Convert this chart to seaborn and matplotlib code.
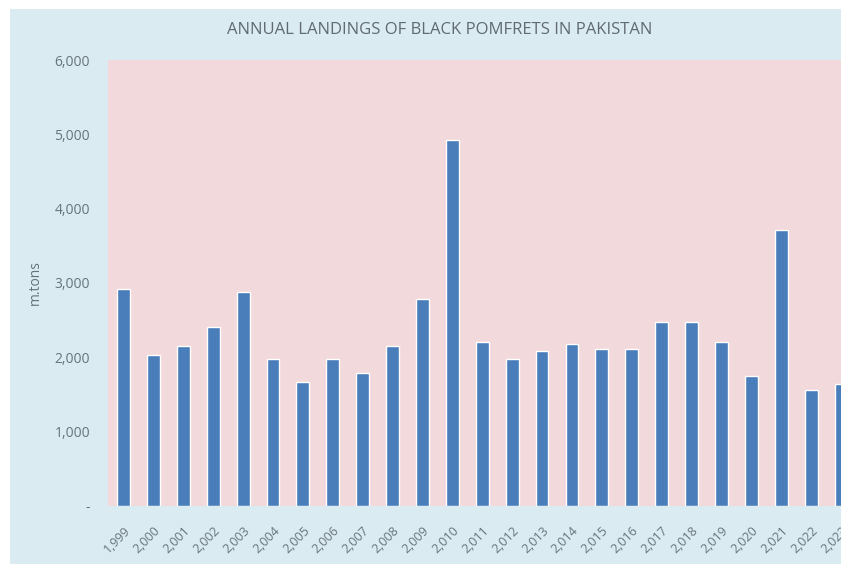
import matplotlib
matplotlib.use("Agg")
import matplotlib.pyplot as plt
import matplotlib.patches as mpatches
import seaborn as sns
import pandas as pd

years = [1999, 2000, 2001, 2002, 2003, 2004, 2005, 2006, 2007, 2008, 2009, 2010,
         2011, 2012, 2013, 2014, 2015, 2016, 2017, 2018, 2019, 2020, 2021, 2022, 2023]
landings = [2920, 2030, 2150, 2410, 2880, 1980, 1665, 1980, 1795, 2155, 2785, 4925,
            2210, 1980, 2090, 2175, 2110, 2110, 2470, 2480, 2210, 1755, 3715, 1560, 1640]
year_labels = [f"{y:,}" for y in years]
y_ticks = [0, 1000, 2000, 3000, 4000, 5000, 6000]
y_tick_labels = ["-" if v == 0 else f"{v:,}" for v in y_ticks]

title = "ANNUAL LANDINGS OF BLACK POMFRETS IN PAKISTAN"
y_label = "m.tons"

sns.set_theme(style="white")
plt.rcParams["font.family"] = ["Open Sans", "DejaVu Sans"]

text_color = "#66757a"
title_color = "#5f6b70"
outer_bg = "#daebf1"
plot_bg = "#f2d9dc"
bar_color = "#4a7ebb"

fig = plt.figure(figsize=(8.41, 5.64), dpi=100)
fig.patch.set_facecolor("white")
bg = mpatches.Rectangle((10 / 841, 0), 1 - 10 / 841, 1 - 9 / 564,
                        transform=fig.transFigure, facecolor=outer_bg,
                        edgecolor="none", zorder=-5)
fig.add_artist(bg)

ax = fig.add_axes([108 / 841, 1 - 506 / 564, 1 - 108 / 841, (506 - 60) / 564])
ax.set_zorder(1)
ax.set_facecolor(plot_bg)

df = pd.DataFrame({"year": year_labels, "landings": landings})
sns.barplot(data=df, x="year", y="landings", color=bar_color, width=0.43,
            saturation=1, ax=ax)

ax.set_xlim(-0.52, 24.0)
ax.set_ylim(0, 6000)
ax.set_yticks(y_ticks)
ax.set_yticklabels(y_tick_labels, fontsize=10, color=text_color)
ax.set_xticks(range(len(years)))
ax.set_xticklabels(year_labels, rotation=45, ha="right", rotation_mode="anchor",
                   fontsize=9, color=text_color)
ax.tick_params(axis="y", length=0, pad=13)
ax.tick_params(axis="x", length=0, pad=13)
ax.set_xlabel("")
ax.set_ylabel(y_label, fontsize=10, color=text_color)
ax.yaxis.set_label_coords(-0.0887, 0.5)
for s in ax.spines.values():
    s.set_visible(False)

fig.text(440 / 841, 1 - 30 / 564, title, ha="center", va="center",
         fontsize=12, color=title_color)

fig.savefig("out.png", dpi=100, facecolor=fig.get_facecolor())
